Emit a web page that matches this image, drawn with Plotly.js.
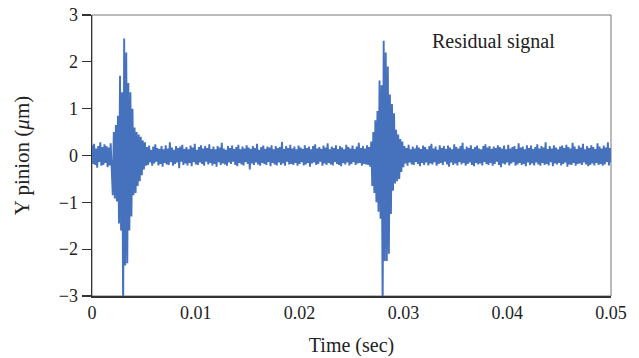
<!DOCTYPE html>
<html>
<head>
<meta charset="utf-8">
<script src="https://cdn.plot.ly/plotly-3.0.1.min.js"></script>
<style>html,body{margin:0;padding:0;background:#fff;}#chart{width:639px;height:358px;}</style>
</head>
<body>
<div id="chart"></div>
<script>
// sampling
var t0 = 0;
var dt = 0.0001; // sec per sample

// residual signal samples (µm)
var preBurst = [0.22,-0.18,0.25,-0.2,0.15,-0.26,0.2,-0.14,0.28,-0.22,0.18,-0.2,0.24,-0.16,0.2,-0.25,0.17,-0.21,0.26,-0.19];
var burst1 = [-0.85,0.5,-0.92,0.65,-0.98,0.85,-1.45,1.7,-1.6,1.35,-3.4,2.5,-2.35,2.2,-2.3,1.55,-1.6,1.35,-1.3,1.0,-0.85,0.6,-0.8,0.5,-0.65,0.45,-0.55,0.4,-0.42,0.32,-0.3,0.28,-0.22];
var between = [
0.18,-0.2,0.21,-0.15,0.12,-0.22,0.19,-0.17,0.24,-0.13,0.16,-0.21,0.14,-0.18,0.2,-0.24,0.13,-0.16,0.22,-0.19,
0.15,-0.2,0.28,-0.14,0.17,-0.22,0.12,-0.18,0.2,-0.15,0.16,-0.27,0.19,-0.13,0.23,-0.2,0.14,-0.17,0.18,-0.21,
0.13,-0.16,0.21,-0.23,0.17,-0.14,0.25,-0.19,0.12,-0.2,0.18,-0.15,0.22,-0.18,0.15,-0.22,0.2,-0.13,0.16,-0.19,
0.24,-0.16,0.14,-0.21,0.19,-0.18,0.13,-0.24,0.2,-0.14,0.17,-0.2,0.27,-0.17,0.15,-0.19,0.12,-0.22,0.2,-0.15,
0.16,-0.18,0.21,-0.13,0.14,-0.2,0.18,-0.23,0.23,-0.16,0.13,-0.19,0.19,-0.21,0.15,-0.14,0.22,-0.18,0.17,-0.3,
0.14,-0.17,0.2,-0.2,0.16,-0.15,0.25,-0.19,0.12,-0.22,0.18,-0.16,0.21,-0.18,0.14,-0.2,0.19,-0.14,0.17,-0.23,
0.22,-0.16,0.13,-0.19,0.2,-0.21,0.16,-0.15,0.18,-0.2,0.29,-0.17,0.14,-0.22,0.2,-0.13,0.16,-0.19,0.23,-0.18,
0.15,-0.2,0.19,-0.16,0.13,-0.22,0.21,-0.18,0.17,-0.14,0.14,-0.21,0.22,-0.19,0.16,-0.16,0.19,-0.24,0.13,-0.17,
0.2,-0.15,0.24,-0.2,0.15,-0.18,0.18,-0.13,0.14,-0.22,0.21,-0.17,0.17,-0.2,0.26,-0.16,0.13,-0.19,0.19,-0.21,
0.16,-0.14,0.22,-0.18,0.14,-0.2,0.2,-0.23,0.17,-0.16,0.13,-0.19,0.23,-0.15,0.18,-0.21,0.15,-0.18,0.21,-0.14,
0.14,-0.2,0.19,-0.17,0.27,-0.16,0.16,-0.22,0.2,-0.18,0.15,-0.19,0.22,-0.2,0.18,-0.24,0.3];
var burst2 = [-0.65,0.5,-0.8,0.75,-1.0,0.95,-1.2,1.6,-1.35,1.5,-3.4,2.45,-2.25,2.2,-2.25,1.9,-2.1,1.3,-1.25,1.1,-0.75,0.9,-0.6,0.55,-0.55,0.45,-0.5,0.35,-0.35,0.3,-0.25];
var tail = [
0.2,-0.17,0.16,-0.22,0.23,-0.15,0.13,-0.19,0.19,-0.2,0.15,-0.14,0.22,-0.18,0.17,-0.23,0.14,-0.16,0.21,-0.2,
0.18,-0.15,0.13,-0.21,0.2,-0.17,0.25,-0.19,0.15,-0.14,0.19,-0.22,0.12,-0.18,0.22,-0.16,0.16,-0.2,0.2,-0.13,
0.14,-0.19,0.21,-0.24,0.17,-0.15,0.13,-0.2,0.24,-0.17,0.18,-0.21,0.15,-0.14,0.2,-0.19,0.27,-0.16,0.13,-0.22,
0.19,-0.18,0.16,-0.15,0.22,-0.2,0.14,-0.23,0.18,-0.16,0.21,-0.19,0.15,-0.17,0.13,-0.21,0.2,-0.14,0.24,-0.18,
0.17,-0.2,0.2,-0.16,0.14,-0.22,0.19,-0.18,0.16,-0.13,0.22,-0.2,0.18,-0.25,0.15,-0.17,0.21,-0.19,0.13,-0.15,
0.23,-0.21,0.15,-0.17,0.18,-0.14,0.2,-0.22,0.14,-0.19,0.26,-0.16,0.17,-0.2,0.19,-0.18,0.13,-0.23,0.22,-0.15,
0.16,-0.2,0.21,-0.17,0.14,-0.21,0.18,-0.15,0.24,-0.19,0.15,-0.22,0.2,-0.16,0.17,-0.2,0.28,-0.18,0.14,-0.21,
0.2,-0.14,0.15,-0.23,0.22,-0.17,0.17,-0.19,0.13,-0.16,0.19,-0.21,0.21,-0.18,0.16,-0.15,0.23,-0.24,0.18,-0.19,
0.15,-0.2,0.27,-0.16,0.19,-0.22,0.14,-0.18,0.21,-0.17,0.17,-0.2,0.25,-0.15,0.13,-0.19,0.2,-0.23,0.16,-0.2,
0.22,-0.17,0.18,-0.21,0.14,-0.16,0.26,-0.2,0.19,-0.18,0.15,-0.22,0.21,-0.19,0.17,-0.14,0.28,-0.21,0.16,-0.15];

var yTickVals = [-3,-2,-1,0,1,2,3];
var xTickVals = [0,0.01,0.02,0.03,0.04,0.05];
var xTickText = ['0','0.01','0.02','0.03','0.04','0.05'];
var labelText = 'Residual signal';

var signal = [].concat(preBurst, burst1, between, burst2, tail);

var font = 'Liberation Serif, Times New Roman, serif';
var trace = {
  type: 'scatter', mode: 'lines',
  x0: t0, dx: dt, y: signal,
  line: {color: '#4671bd', width: 1.9},
  hoverinfo: 'skip', showlegend: false
};

var layout = {
  width: 639, height: 358,
  margin: {l: 92, r: 28, t: 15, b: 62},
  paper_bgcolor: '#fff', plot_bgcolor: '#fff',
  font: {family: font, size: 18, color: '#222'},
  xaxis: {
    range: [0, 0.05], tickvals: xTickVals, ticktext: xTickText,
    ticks: '', showgrid: false, zeroline: false,
    showline: true, linecolor: '#333', linewidth: 1.5,
    tickfont: {family: font, size: 18, color: '#222'},
    title: {text: 'Time (sec)', font: {family: font, size: 20, color: '#222'}, standoff: 16}
  },
  yaxis: {
    range: [-3, 3], tickvals: yTickVals,
    ticks: 'outside', ticklen: 9, tickwidth: 1.2, tickcolor: '#333',
    showgrid: false, zeroline: false,
    showline: true, linecolor: '#333', linewidth: 1.5,
    tickfont: {family: font, size: 18, color: '#222'},
    title: {text: 'Y pinion (<i>μ</i>m)', font: {family: font, size: 21, color: '#222'}, standoff: 23}
  },
  shapes: [{
    type: 'rect', xref: 'paper', yref: 'paper', x0: 0, x1: 1, y0: 0, y1: 1,
    line: {color: '#777', width: 1}, layer: 'below'
  }],
  annotations: [{
    text: labelText, xref: 'paper', yref: 'paper', x: 0.773, y: 0.904,
    xanchor: 'center', yanchor: 'middle', showarrow: false,
    font: {family: font, size: 20, color: '#222'}
  }]
};

Plotly.newPlot('chart', [trace], layout, {displayModeBar: false, staticPlot: true});
</script>
</body>
</html>
